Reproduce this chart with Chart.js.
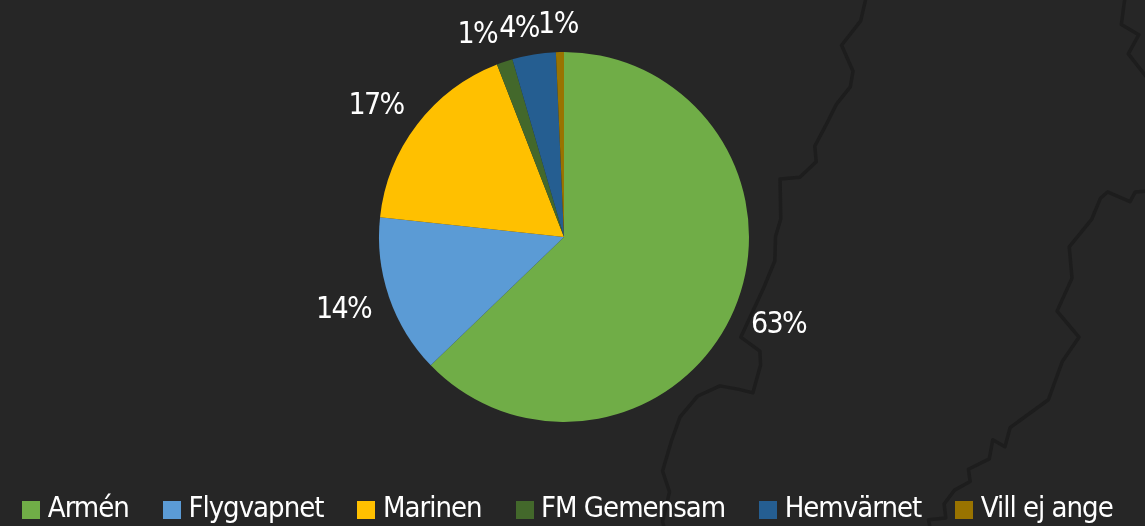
<!DOCTYPE html>
<html><head><meta charset="utf-8">
<style>
html,body{margin:0;padding:0;background:#262626;overflow:hidden}
#wrap{position:relative;width:1145px;height:526px;background:#262626}
#map{position:absolute;left:600px;top:0;width:545px;height:526px;filter:blur(0.6px)}
canvas{position:absolute;left:0;top:0}
</style>
<script src="https://cdn.jsdelivr.net/npm/chart.js@4"></script>
</head><body>
<div id="wrap">
<svg id="map" viewBox="0 0 1568 1513" fill="none" stroke="#1d1d1d" stroke-width="10" stroke-linejoin="round" stroke-linecap="round">
<path d="M765 -5L750 60L695 130L728 205L720 250L680 300L650 360L618 420L622 465L575 510L518 515L520 630L505 680L503 750L470 830L405 970L460 1010L462 1050L440 1130L400 1120L345 1110L280 1140L230 1200L205 1270L180 1355L200 1415L180 1500L185 1520"/>
<path d="M1575 550L1540 552L1525 580L1460 552L1440 570L1415 630L1350 710L1358 800L1315 895L1378 970L1330 1040L1290 1150L1180 1230L1165 1285L1130 1265L1120 1320L1060 1350L1065 1385L1020 1410L990 1450L995 1490L945 1495L950 1520"/>
<path d="M1510 -5L1500 70L1550 100L1520 155L1575 225"/>
</svg>
<canvas id="c" width="1145" height="526"></canvas>
</div>
<script>
const categories = ['Armén','Flygvapnet','Marinen','FM Gemensam','Hemvärnet','Vill ej ange'];
const shareValues = [62.8,13.9,17.4,1.4,3.8,0.7];
const shareLabels = ['63%','14%','17%','1%','4%','1%'];
const sliceColors = ['#70ad47','#5b9bd5','#ffc000','#43682b','#255e91','#997300'];
const labelNudges = [[2,-2],[0,-2],[-3,11],[-12,19],[-7,22],[-1,21]];
const FONT = '"DejaVu Sans Condensed","Liberation Sans",sans-serif';
const LEGEND_SPACING = '-1px', LABEL_SPACING = '-1.6px';

function swatch(color){
  const s=document.createElement('canvas');s.width=18;s.height=18;
  const x=s.getContext('2d');x.fillStyle=color;x.fillRect(0,0,18,18);return s;
}
const swatches=sliceColors.map(swatch);

const valueLabels={id:'valueLabels',afterDatasetsDraw(chart){
  const ctx=chart.ctx,arcs=chart.getDatasetMeta(0).data;
  ctx.save();ctx.fillStyle='#fff';ctx.font='30px '+FONT;ctx.letterSpacing=LABEL_SPACING;ctx.textAlign='center';ctx.textBaseline='middle';
  const radial=[46,48,48,48,48,48];
  arcs.forEach((a,i)=>{
    const m=(a.startAngle+a.endAngle)/2,r=a.outerRadius+radial[i];
    ctx.fillText(shareLabels[i],a.x+Math.cos(m)*r+labelNudges[i][0],a.y+Math.sin(m)*r+labelNudges[i][1]);
  });
  ctx.restore();
}};
const legendPlace={id:'legendPlace',
  beforeInit(chart){
    const l=chart.legend,f=l.fit;
    l.fit=function(){this.maxWidth=1400;this.ctx.letterSpacing=LEGEND_SPACING;f.call(this);this.height=104;};
  },
  beforeDraw(chart){chart.ctx.letterSpacing=LEGEND_SPACING;},
  afterLayout(chart){
    const l=chart.legend,p=l.options.labels.padding;
    l.top=495-p;l.left=-30;l.right=1172;l.adjustHitBoxes();
  }};
new Chart(document.getElementById('c'),{
  type:'pie',
  data:{labels:categories,datasets:[{data:shareValues,backgroundColor:sliceColors,borderWidth:0}]},
  options:{responsive:false,animation:false,
    layout:{padding:{top:52,left:0,right:17,bottom:0}},
    plugins:{tooltip:{enabled:false},
      legend:{position:'bottom',labels:{
        color:'#fff',font:{family:FONT,size:29},padding:41,boxWidth:4,usePointStyle:true,pointStyleWidth:4,
        generateLabels(chart){return categories.map((t,i)=>({text:t,fillStyle:sliceColors[i],strokeStyle:sliceColors[i],lineWidth:0,pointStyle:swatches[i],hidden:false,index:i,fontColor:'#fff'}));}
      }}
    }
  },
  plugins:[legendPlace,valueLabels]
});
</script>
</body></html>
